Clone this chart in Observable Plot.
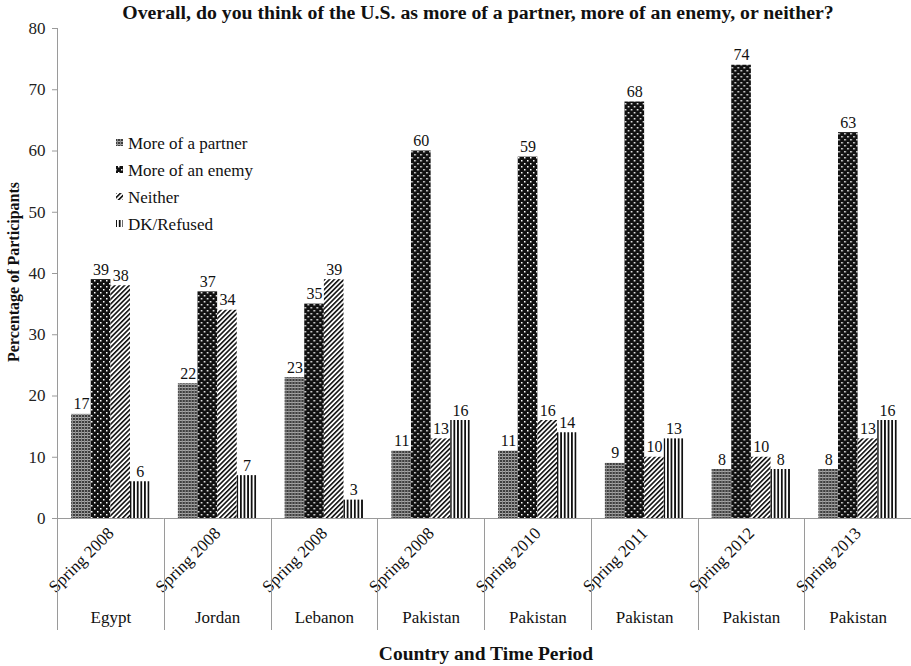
<!DOCTYPE html>
<html><head><meta charset="utf-8">
<script src="https://cdn.jsdelivr.net/npm/d3@7"></script>
<script src="https://cdn.jsdelivr.net/npm/@observablehq/plot@0.6"></script>
<style>body{margin:0;background:#fff;} #chart{width:911px;height:666px;} #chart svg text{font-family:"Liberation Serif",serif;}</style>
</head><body><div id="chart"></div>
<script>
// ---- data ----
const countries = ["Egypt","Jordan","Lebanon","Pakistan","Pakistan","Pakistan","Pakistan","Pakistan"];
const periods = ["Spring 2008","Spring 2008","Spring 2008","Spring 2008","Spring 2010","Spring 2011","Spring 2012","Spring 2013"];
const series = ["More of a partner","More of an enemy","Neither","DK/Refused"];
const partner = [17,22,23,11,11,9,8,8];
const enemy   = [39,37,35,60,59,68,74,63];
const neither = [38,34,39,13,16,10,10,13];
const dk      = [6,7,3,16,14,13,8,16];
const yTicks = [0,10,20,30,40,50,60,70,80];
const title = "Overall, do you think of the U.S. as more of a partner, more of an enemy, or neither?";
const yTitle = "Percentage of Participants";
const xTitle = "Country and Time Period";

const valuesBySeries = [partner, enemy, neither, dk];
const rows = [];
countries.forEach((c, i) => series.forEach((s, j) => rows.push({g: i, series: s, value: valuesBySeries[j][i]})));

const patIds = ["pat-partner","pat-enemy","pat-neither","pat-dk"];
const urls = patIds.map(id => `url(#${id})`);
const font = "Liberation Serif, serif";

const plot = Plot.plot({
  width: 911, height: 666,
  marginLeft: 57, marginRight: 0, marginTop: 28, marginBottom: 148,
  style: {fontFamily: font, fontSize: "17px", background: "#fff", color: "#000", overflow: "visible"},
  fx: {domain: d3.range(countries.length), paddingInner: 0, paddingOuter: 0, round: false, axis: null, label: null},
  x: {domain: series, paddingInner: 0, paddingOuter: 0.72, round: false, axis: null, label: null},
  y: {domain: [0, 80], axis: null, label: null},
  color: {domain: series, range: urls},
  marks: [
    Plot.barY(rows, {fx: "g", x: "series", y: "value", fill: "series"}),
    Plot.text(rows, {fx: "g", x: "series", y: "value", text: d => String(d.value), dy: -5, lineAnchor: "bottom", fontSize: 16, fontFamily: font, fill: "#111"}),
    Plot.ruleY([0], {stroke: "#9a9a9a"}),
    Plot.axisY({ticks: yTicks, tickSize: 5, tickPadding: 7, label: null, fontSize: 17, fontFamily: font, stroke: "#9a9a9a", fill: "#222"}),
    Plot.axisFx({anchor: "bottom", tickSize: 0, tickPadding: 12, tickRotate: -45, tickFormat: i => periods[i], label: null, fontSize: 17, fontFamily: font, fill: "#111"}),
    Plot.axisFx({anchor: "bottom", tickSize: 0, tickPadding: 92, tickFormat: i => countries[i], label: null, fontSize: 17, fontFamily: font, fill: "#111"})
  ]
});

const svg = d3.select(plot);
const defs = svg.insert("defs", ":first-child");
// partner: fine grey grid
let p = defs.append("pattern").attr("id", patIds[0]).attr("patternUnits", "userSpaceOnUse").attr("width", 3).attr("height", 3);
p.append("rect").attr("width", 3).attr("height", 3).attr("fill", "#3e3e3e");
p.append("rect").attr("width", 3).attr("height", 1).attr("fill", "#a8a8a8");
p.append("rect").attr("width", 1).attr("height", 3).attr("fill", "#8a8a8a");
// enemy: black with white dots
p = defs.append("pattern").attr("id", patIds[1]).attr("patternUnits", "userSpaceOnUse").attr("width", 6).attr("height", 6);
p.append("rect").attr("width", 6).attr("height", 6).attr("fill", "#111");
p.append("rect").attr("x", 1).attr("y", 1).attr("width", 1.5).attr("height", 1.5).attr("fill", "#fff");
p.append("rect").attr("x", 4).attr("y", 4).attr("width", 1.5).attr("height", 1.5).attr("fill", "#fff");
// neither: diagonal stripes
p = defs.append("pattern").attr("id", patIds[2]).attr("patternUnits", "userSpaceOnUse").attr("width", 3.4).attr("height", 3.4).attr("patternTransform", "rotate(45)");
p.append("rect").attr("width", 3.4).attr("height", 3.4).attr("fill", "#fff");
p.append("rect").attr("width", 1.6).attr("height", 3.4).attr("fill", "#111");
// dk: vertical stripes
p = defs.append("pattern").attr("id", patIds[3]).attr("patternUnits", "userSpaceOnUse").attr("width", 3.6).attr("height", 4);
p.append("rect").attr("width", 3.6).attr("height", 4).attr("fill", "#fff");
p.append("rect").attr("width", 1.8).attr("height", 4).attr("fill", "#111");

// separators and y-axis line, placed with the library's scales
const fxS = plot.scale("fx"), yS = plot.scale("y");
const y0 = yS.apply(0), yTop = yS.apply(80), yBottom = 630;
const sep = svg.append("g").attr("stroke", "#9a9a9a").attr("stroke-width", 1);
d3.range(countries.length).forEach(i => {
  const xx = Math.round(fxS.apply(i)) + 0.5;
  sep.append("line").attr("x1", xx).attr("x2", xx).attr("y1", i === 0 ? yTop : y0).attr("y2", yBottom);
});

// titles
svg.append("text").attr("x", 478).attr("y", 19).attr("text-anchor", "middle")
  .attr("font-weight", "bold").attr("font-size", 19.8).attr("fill", "#111").text(title);
svg.append("text").attr("transform", "translate(19,272) rotate(-90)").attr("text-anchor", "middle")
  .attr("font-weight", "bold").attr("font-size", 16).attr("fill", "#111").text(yTitle);
svg.append("text").attr("x", 486).attr("y", 660).attr("text-anchor", "middle")
  .attr("font-weight", "bold").attr("font-size", 19.5).attr("fill", "#111").text(xTitle);

// legend
const lg = svg.append("g").attr("font-size", 17);
series.forEach((s, j) => {
  const cy = 143 + j * 27;
  lg.append("rect").attr("x", 116).attr("y", cy - 4).attr("width", 7).attr("height", 7).attr("fill", urls[j]);
  lg.append("text").attr("x", 128).attr("y", cy).attr("dy", "0.35em").attr("text-anchor", "start").attr("fill", "#111").text(s);
});

document.getElementById("chart").appendChild(plot);
</script>
</body></html>
